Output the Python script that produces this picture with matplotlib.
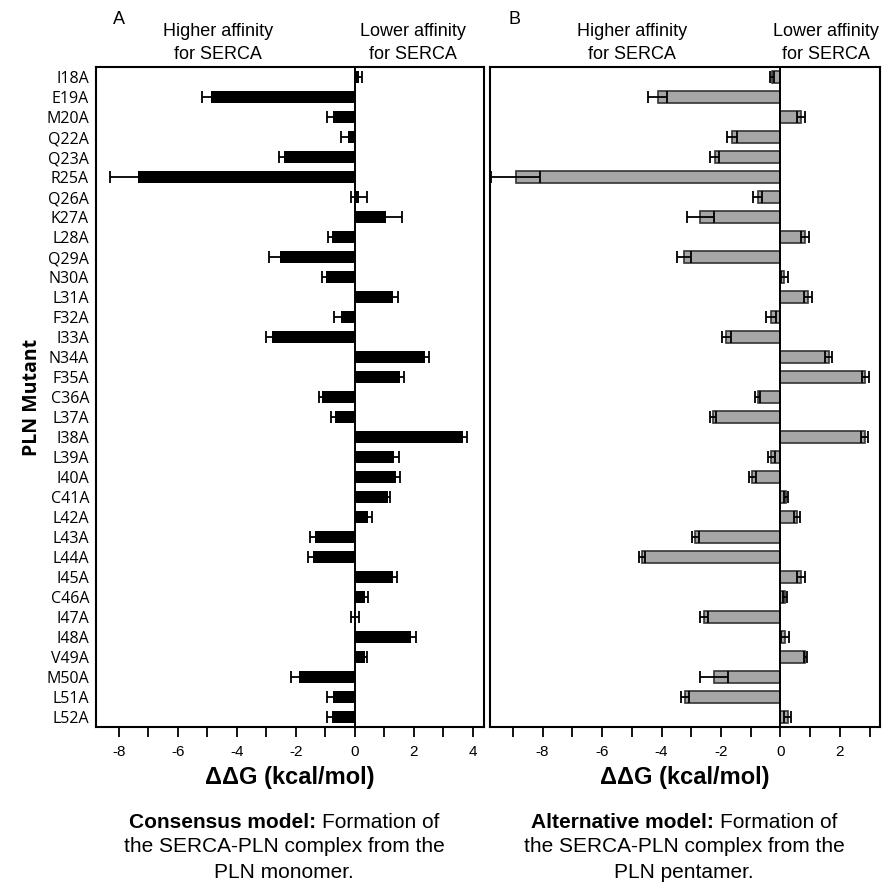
import matplotlib
matplotlib.use("Agg")
import matplotlib.pyplot as plt
import numpy as np

# PLN alanine mutants, top to bottom
mutants = ["I18A", "E19A", "M20A", "Q22A", "Q23A", "R25A", "Q26A", "K27A",
           "L28A", "Q29A", "N30A", "L31A", "F32A", "I33A", "N34A", "F35A",
           "C36A", "L37A", "I38A", "L39A", "I40A", "C41A", "L42A", "L43A",
           "L44A", "I45A", "C46A", "I47A", "I48A", "V49A", "M50A", "L51A",
           "L52A"]

# panel A: consensus model (monomer)
ddg_a = [0.15, -4.89, -0.75, -0.24, -2.40, -7.36, 0.15, 1.05,
         -0.77, -2.53, -0.99, 1.29, -0.46, -2.82, 2.39, 1.54,
         -1.11, -0.66, 3.69, 1.35, 1.41, 1.13, 0.45, -1.34,
         -1.43, 1.29, 0.35, 0.02, 1.92, 0.35, -1.89, -0.75,
         -0.76]
err_a = [0.10, 0.28, 0.20, 0.22, 0.18, 0.95, 0.27, 0.55,
         0.15, 0.38, 0.13, 0.17, 0.23, 0.19, 0.14, 0.14,
         0.10, 0.14, 0.13, 0.14, 0.14, 0.07, 0.13, 0.18,
         0.17, 0.16, 0.09, 0.13, 0.17, 0.07, 0.27, 0.19,
         0.18]

# panel B: alternative model (pentamer)
ddg_b = [-0.29, -4.13, 0.69, -1.63, -2.21, -8.91, -0.77, -2.69,
         0.82, -3.25, 0.13, 0.93, -0.31, -1.82, 1.62, 2.86,
         -0.77, -2.27, 2.84, -0.31, -0.95, 0.19, 0.57, -2.86,
         -4.65, 0.69, 0.15, -2.57, 0.15, 0.84, -2.24, -3.20,
         0.25]
err_b = [0.07, 0.31, 0.14, 0.16, 0.15, 0.83, 0.16, 0.45,
         0.13, 0.24, 0.11, 0.12, 0.17, 0.15, 0.11, 0.13,
         0.09, 0.11, 0.12, 0.12, 0.12, 0.06, 0.10, 0.12,
         0.11, 0.13, 0.07, 0.14, 0.13, 0.06, 0.47, 0.14,
         0.12]

narrow = ["Liberation Sans Narrow", "Liberation Sans", "DejaVu Sans"]
plain = ["Open Sans", "DejaVu Sans"]

fig = plt.figure(figsize=(8.82, 8.82), dpi=100)
ax_a = fig.add_axes([96 / 882, 1 - 727 / 882, 388 / 882, 660 / 882])
ax_b = fig.add_axes([490 / 882, 1 - 727 / 882, 390 / 882, 660 / 882])

y = np.arange(len(mutants))

ax_a.barh(y, ddg_a, height=0.63, color="black", zorder=2)
ax_a.errorbar(ddg_a, y, xerr=err_a, fmt="none", ecolor="black",
              elinewidth=1.3, capsize=4, capthick=1.3, zorder=1)

ax_b.barh(y, ddg_b, height=0.63, color="#a6a6a6", edgecolor="#333333",
          linewidth=1.2, zorder=1)
ax_b.errorbar(ddg_b, y, xerr=err_b, fmt="none", ecolor="black",
              elinewidth=1.3, capsize=4, capthick=1.3, zorder=3)

for ax, lo, hi, first, last in [(ax_a, -8.78, 4.39, -8, 4), (ax_b, -9.77, 3.35, -9, 3)]:
    ax.set_xlim(lo, hi)
    ax.set_ylim(len(mutants) - 0.5, -0.5)
    ax.axvline(0, color="black", lw=1.4, zorder=4)
    ticks = np.arange(first, last + 1)
    ax.set_xticks(ticks)
    ax.set_xticklabels([str(v) if v % 2 == 0 else "" for v in ticks],
                       family=narrow, fontsize=11)
    ax.tick_params(axis="x", direction="out", length=7, width=1.3, pad=6)
    for s in ax.spines.values():
        s.set_linewidth(1.5)
    ax.set_xlabel("ΔΔG (kcal/mol)", family=narrow, fontsize=17,
                  fontweight="bold", labelpad=5)

ax_a.set_yticks(y)
ax_a.set_yticklabels(mutants, family=plain, fontsize=11.5)
ax_a.tick_params(axis="y", length=0, pad=5)
ax_a.set_ylabel("PLN Mutant", family=plain, fontsize=14, fontweight="bold",
                labelpad=3)
ax_b.set_yticks([])

# header text above the panels
fig.text(119 / 882, 1 - 20 / 882, "A", family=narrow, fontsize=13,
         ha="center", va="center")
fig.text(515 / 882, 1 - 19 / 882, "B", family=narrow, fontsize=13,
         ha="center", va="center")
for xc, txt in [(218, "Higher affinity\nfor SERCA"), (413, "Lower affinity\nfor SERCA"),
                (632, "Higher affinity\nfor SERCA"), (826, "Lower affinity\nfor SERCA")]:
    fig.text(xc / 882, 1 - 43 / 882, txt, family=narrow, fontsize=13,
             ha="center", va="center", linespacing=1.5)

# captions under the panels
renderer = fig.canvas.get_renderer()
for xc, head, rest in [(284, "Consensus model:", "PLN monomer."),
                       (684, "Alternative model:", "PLN pentamer.")]:
    t1 = fig.text(0, 1 - 822 / 882, head + " ", family=narrow,
                  fontsize=15, fontweight="bold", ha="left", va="center")
    t2 = fig.text(0, 1 - 822 / 882, "Formation of", family=narrow,
                  fontsize=15, ha="left", va="center")
    w1 = t1.get_window_extent(renderer).width
    w2 = t2.get_window_extent(renderer).width
    x0 = xc - (w1 + w2) / 2
    t1.set_x(x0 / 882)
    t2.set_x((x0 + w1) / 882)
    fig.text(xc / 882, 1 - 847 / 882, "the SERCA-PLN complex from the",
             family=narrow, fontsize=15, ha="center", va="center")
    fig.text(xc / 882, 1 - 872 / 882, rest, family=narrow, fontsize=15,
             ha="center", va="center")

fig.savefig("out.png", dpi=100)
